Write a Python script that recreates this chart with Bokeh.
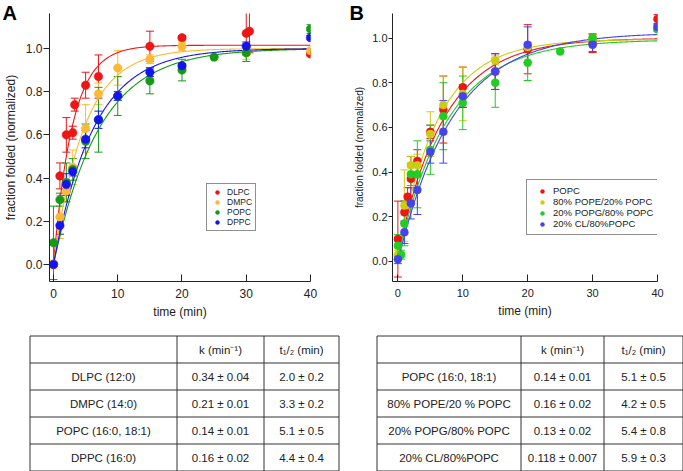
import numpy as np
from bokeh.plotting import figure
from bokeh.models import (Range1d, Whisker, TeeHead, ColumnDataSource, Legend,
                          LegendItem, FixedTicker, PrintfTickFormatter)
from bokeh.layouts import column, row
from bokeh.embed import file_html
from bokeh.resources import INLINE
from bokeh.core.properties import value

FONT = "Liberation Sans"

# ---------------- Panel A data ----------------
a_names = ["DLPC", "DMPC", "POPC", "DPPC"]
a_colors = ["#ee1515", "#fdb935", "#169a16", "#1414ee"]
a_k = [0.34, 0.21, 0.14, 0.16]
a_plateau = [1.015, 1.0, 1.0, 1.0]
a_y0 = [0.0, 0.0, 0.0, 0.0]

dlpc_t = [0, 1, 2, 3, 3.3, 5, 7, 15, 20, 30, 30.5, 40]
dlpc_v = [0.0, 0.41, 0.60, 0.61, 0.74, 0.83, 0.87, 1.01, 1.05, 1.07, 1.08, 0.975]
dlpc_e = [0.01, 0.06, 0.08, 0.03, 0.03, 0.06, 0.10, 0.07, 0.01, 0.10, 0.10, 0.01]

dmpc_t = [0, 1, 2, 3, 5, 7, 10, 15, 20, 30, 40]
dmpc_v = [0.0, 0.22, 0.34, 0.45, 0.63, 0.79, 0.91, 0.95, 1.01, 0.98, 0.99]
dmpc_e = [0.02, 0.10, 0.05, 0.08, 0.11, 0.05, 0.08, 0.02, 0.02, 0.03, 0.01]

popcA_t = [0, 1, 2, 3, 5, 7, 10, 15, 20, 25, 30, 40]
popcA_v = [0.10, 0.30, 0.38, 0.44, 0.57, 0.67, 0.78, 0.85, 0.90, 0.96, 0.98, 1.09]
popcA_e = [0.17, 0.03, 0.09, 0.05, 0.08, 0.15, 0.09, 0.06, 0.05, 0.0, 0.04, 0.02]

dppc_t = [0, 1, 2, 3, 5, 7, 10, 15, 20, 30, 40]
dppc_v = [0.0, 0.18, 0.37, 0.43, 0.58, 0.67, 0.78, 0.89, 0.92, 1.01, 1.05]
dppc_e = [0.01, 0.04, 0.05, 0.02, 0.04, 0.04, 0.02, 0.02, 0.01, 0.02, 0.01]

a_series = [(dlpc_t, dlpc_v, dlpc_e), (dmpc_t, dmpc_v, dmpc_e),
            (popcA_t, popcA_v, popcA_e), (dppc_t, dppc_v, dppc_e)]

# ---------------- Panel B data ----------------
b_names = ["POPC", "80% POPE/20% POPC", "20% POPG/80% POPC", "20% CL/80%POPC"]
b_colors = ["#ee1515", "#cccc15", "#22cc22", "#4444ee"]
b_k = [0.14, 0.16, 0.13, 0.118]
b_plateau = [1.0, 0.995, 0.993, 1.025]
b_y0 = [0.03, 0.03, 0.02, 0.0]

popcB_t = [0, 1, 1.5, 2, 3, 5, 7, 10, 15, 20, 30, 40]
popcB_v = [0.10, 0.22, 0.29, 0.37, 0.45, 0.58, 0.68, 0.78, 0.85, 0.95, 0.975, 1.085]
popcB_e = [0.17, 0.05, 0.04, 0.10, 0.05, 0.03, 0.15, 0.09, 0.08, 0.11, 0.04, 0.02]

pope_t = [0, 1, 2, 3, 5, 7, 10, 15, 20, 30, 40]
pope_v = [0.03, 0.25, 0.43, 0.43, 0.57, 0.70, 0.75, 0.90, 0.96, 1.0, 1.04]
pope_e = [0.02, 0.16, 0.04, 0.05, 0.10, 0.13, 0.12, 0.02, 0.02, 0.02, 0.01]

popg_t = [0, 0.5, 1, 2, 3, 5, 7, 10, 15, 20, 25, 30, 40]
popg_v = [0.07, 0.03, 0.17, 0.39, 0.39, 0.50, 0.65, 0.71, 0.80, 0.89, 0.94, 1.0, 1.04]
popg_e = [0.05, 0.02, 0.10, 0.05, 0.15, 0.11, 0.15, 0.12, 0.11, 0.08, 0.0, 0.02, 0.01]

cl_t = [0, 1, 2, 3, 5, 7, 10, 15, 20, 30, 40]
cl_v = [0.01, 0.13, 0.26, 0.32, 0.49, 0.58, 0.74, 0.85, 0.97, 0.97, 1.05]
cl_e = [0.02, 0.05, 0.07, 0.11, 0.05, 0.14, 0.05, 0.08, 0.08, 0.03, 0.01]

b_series = [(popcB_t, popcB_v, popcB_e), (pope_t, pope_v, pope_e),
            (popg_t, popg_v, popg_e), (cl_t, cl_v, cl_e)]

# ---------------- Table data ----------------
hdr = ["", "k (min\u207b\u00b9)", "t\u2081/\u2082 (min)"]
tA_rows = ["DLPC (12:0)", "DMPC (14:0)", "POPC (16:0, 18:1)", "DPPC (16:0)"]
tA_k = ["0.34 \u00b1 0.04", "0.21 \u00b1 0.01", "0.14 \u00b1 0.01", "0.16 \u00b1 0.02"]
tA_t = ["2.0 \u00b1 0.2", "3.3 \u00b1 0.2", "5.1 \u00b1 0.5", "4.4 \u00b1 0.4"]
tB_rows = ["POPC (16:0, 18:1)", "80% POPE/20 % POPC", "20% POPG/80% POPC", "20% CL/80%POPC"]
tB_k = ["0.14 \u00b1 0.01", "0.16 \u00b1 0.02", "0.13 \u00b1 0.02", "0.118 \u00b1 0.007"]
tB_t = ["5.1 \u00b1 0.5", "4.2 \u00b1 0.5", "5.4 \u00b1 0.8", "5.9 \u00b1 0.3"]

x_ticks = [0, 10, 20, 30, 40]
y_ticks = [0.0, 0.2, 0.4, 0.6, 0.8, 1.0]


def make_panel(width, height, xr, yr, borders, series, names, colors, ks, plats, y0s,
               tick_out, lab_size, axlab_size, axlab_standoff, legend_loc, legend_font,
               legend_row_h, legend_pad, legend_gw, legend_so,
               letter, letter_offset, msize):
    p = figure(width=width, height=height, x_range=Range1d(*xr), y_range=Range1d(*yr),
               output_backend="svg", toolbar_location=None,
               min_border_left=borders[0], min_border_right=borders[1],
               min_border_top=borders[2], min_border_bottom=borders[3])
    p.outline_line_color = None
    p.grid.visible = False
    p.background_fill_color = "white"
    p.border_fill_color = "white"

    # panel letter as the plot title, pushed into the left border
    p.title.text = letter
    p.title.align = "left"
    p.title.offset = letter_offset
    p.title.standoff = -21
    p.title.text_font = FONT
    p.title.text_font_size = "20px"
    p.title.text_font_style = "bold"
    p.title.text_color = "black"

    p.xaxis.ticker = FixedTicker(ticks=x_ticks, minor_ticks=[])
    p.yaxis.ticker = FixedTicker(ticks=y_ticks, minor_ticks=[])
    p.yaxis.formatter = PrintfTickFormatter(format="%.1f")
    p.xaxis.axis_label = "time (min)"
    p.yaxis.axis_label = "fraction folded (normalized)"
    for ax in (p.xaxis[0], p.yaxis[0]):
        ax.axis_line_color = "#222222"
        ax.major_tick_line_color = "#222222"
        ax.major_label_text_font = FONT
        ax.axis_label_text_font = FONT
        ax.axis_label_text_font_style = "normal"
        ax.major_label_text_color = "#222222"
        ax.axis_label_text_color = "#222222"
    p.xaxis.major_tick_in = 7
    p.xaxis.major_tick_out = 0
    p.xaxis.major_label_standoff = 7
    p.xaxis.axis_label_standoff = 4
    p.xaxis.major_label_text_font_size = lab_size
    p.xaxis.axis_label_text_font_size = "12px"
    p.yaxis.major_tick_in = 0
    p.yaxis.major_tick_out = tick_out
    p.yaxis.major_label_standoff = 1
    p.yaxis.axis_label_standoff = axlab_standoff
    p.yaxis.major_label_text_font_size = lab_size
    p.yaxis.axis_label_text_font_size = axlab_size

    tt = np.linspace(0, 40, 300)
    for (t, v, e), c, k, pl, y0 in zip(series, colors, ks, plats, y0s):
        fit = y0 + (pl - y0) * (1 - np.exp(-k * tt))
        p.line(tt, fit, line_color=c, line_width=1.1)

    items = []
    for (t, v, e), c, nm in zip(series, colors, names):
        v = np.array(v)
        e = np.array(e)
        src = ColumnDataSource(dict(t=t, v=v, up=v + e, lo=v - e))
        w = Whisker(base="t", upper="up", lower="lo", source=src, dimension="height",
                    line_color=c, line_width=1,
                    upper_head=TeeHead(size=8, line_color=c, line_width=1),
                    lower_head=TeeHead(size=8, line_color=c, line_width=1))
        p.add_layout(w)
    for (t, v, e), c, nm in zip(series, colors, names):
        r = p.scatter(t, v, size=msize, fill_color=c, line_color=c, line_width=0.5)
        items.append(LegendItem(label=nm, renderers=[r]))

    leg = Legend(items=items, location=legend_loc, margin=0, padding=legend_pad,
                 spacing=0, glyph_height=legend_row_h, glyph_width=legend_gw,
                 label_height=legend_row_h, label_standoff=legend_so,
                 label_text_font=FONT, label_text_font_size=legend_font,
                 label_text_color="#222222",
                 border_line_color="#222222", border_line_width=1,
                 background_fill_color="white", background_fill_alpha=1)
    p.add_layout(leg)
    return p


pA = make_panel(341, 326, (-0.62, 40), (-0.079, 1.162), (48, 31, 13, 45),
                a_series, a_names, a_colors, a_k, a_plateau, a_y0,
                6, "12px", "12px", 5, (157, 50), "8.5px", 10, 3, 14, 3,
                "A", -47, 8.5)
pB = make_panel(342, 326, (-0.83, 40), (-0.09, 1.11), (51, 26, 13, 43),
                b_series, b_names, b_colors, b_k, b_plateau, b_y0,
                4, "11px", "10px", 4, (134, 46), "9.5px", 10, 5, 20, 1,
                "B", -43, 8)


def make_table(width, height, col_edges, top, bottom, rows, kcol, tcol):
    p = figure(width=width, height=height, x_range=Range1d(0, width),
               y_range=Range1d(height, 0), output_backend="svg", toolbar_location=None,
               min_border=0)
    p.axis.visible = False
    p.grid.visible = False
    p.outline_line_color = None
    nrow = len(rows) + 1
    rh = (bottom - top) / nrow
    row_edges = [top + i * rh for i in range(nrow + 1)]
    p.segment(x0=[col_edges[0]] * len(row_edges), x1=[col_edges[-1]] * len(row_edges),
              y0=row_edges, y1=row_edges, line_color="#333333", line_width=1)
    p.segment(x0=col_edges, x1=col_edges, y0=[top] * len(col_edges),
              y1=[bottom] * len(col_edges), line_color="#333333", line_width=1)
    xs, ys, txt = [], [], []
    cols = [[hdr[0]] + rows, [hdr[1]] + kcol, [hdr[2]] + tcol]
    for ci, cvals in enumerate(cols):
        cx = (col_edges[ci] + col_edges[ci + 1]) / 2
        for ri, s in enumerate(cvals):
            xs.append(cx)
            ys.append(top + (ri + 0.5) * rh)
            txt.append(s)
    p.text(x=xs, y=ys, text=txt, text_align="center", text_baseline="middle",
           text_font=value(FONT), text_font_size="11.5px", text_color="#222222")
    return p


tA = make_table(341, 145, [29.5, 176.5, 263.5, 338.5], 9.5, 144.5, tA_rows, tA_k, tA_t)
tB = make_table(342, 145, [35.5, 179.5, 262.5, 341.5], 9.5, 144.5, tB_rows, tB_k, tB_t)

layout = column(row(pA, pB, spacing=0), row(tA, tB, spacing=0), spacing=0)

with open("out.html", "w") as f:
    f.write(file_html(layout, INLINE))
